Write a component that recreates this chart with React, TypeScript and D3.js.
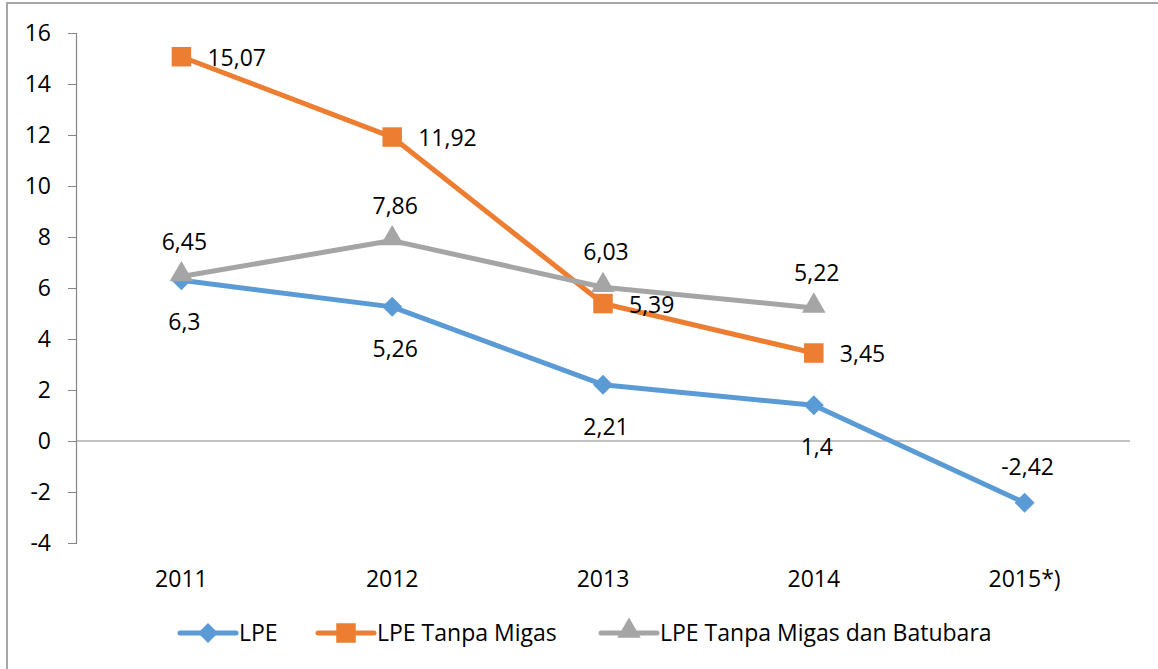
import React, { useEffect, useRef } from 'react';
import * as d3 from 'd3';

const years = ['2011', '2012', '2013', '2014', '2015*)'];
const lpe = [6.3, 5.26, 2.21, 1.4, -2.42];
const lpeTanpaMigas = [15.07, 11.92, 5.39, 3.45, null];
const lpeTanpaBatubara = [6.45, 7.86, 6.03, 5.22, null];
const yTicks = [-4, -2, 0, 2, 4, 6, 8, 10, 12, 14, 16];

const FONT = '"Open Sans", sans-serif';
const FS = 23;

function App() {
  const ref = useRef<SVGSVGElement>(null);

  useEffect(() => {
    const svg = d3.select(ref.current);
    svg.selectAll('*').remove();

    const width = 1158;
    const height = 669;
    const margin = { top: 33, left: 76, right: 28, bottom: 126 };
    const iwidth = width - margin.left - margin.right;
    const iheight = height - margin.top - margin.bottom;

    // chart frame
    svg.append('rect')
      .attr('x', 7).attr('y', 3)
      .attr('width', 1160).attr('height', 680)
      .attr('fill', 'white')
      .attr('stroke', '#a6a6a6')
      .attr('stroke-width', 2);

    const g = svg.append('g').attr('transform', `translate(${margin.left},${margin.top})`);

    const x = d3.scaleBand().domain(years).range([0, iwidth]);
    const y = d3.scaleLinear().domain([-4, 16]).range([iheight, 0]);
    const cx = (d: string) => (x(d) as number) + x.bandwidth() / 2;

    // y axis
    const yAxis = g.append('g')
      .call(d3.axisLeft(y).tickValues(yTicks).tickSize(8).tickPadding(17).tickFormat(d => String(d)));
    yAxis.select('.domain').attr('stroke', '#868686').attr('stroke-width', 1.2);
    yAxis.selectAll('.tick line').attr('stroke', '#868686');
    yAxis.selectAll('.tick text')
      .attr('font-family', FONT).attr('font-size', FS).attr('fill', '#000');

    // zero line
    g.append('line')
      .attr('x1', 0).attr('x2', iwidth)
      .attr('y1', y(0)).attr('y2', y(0))
      .attr('stroke', '#868686').attr('stroke-width', 1.2);

    // category labels
    g.selectAll('.xlab').data(years).enter().append('text')
      .attr('x', d => cx(d))
      .attr('y', iheight + 44)
      .attr('text-anchor', 'middle')
      .attr('font-family', FONT).attr('font-size', FS)
      .text(d => d);

    const series = [
      { name: 'LPE', values: lpe, color: '#5b9bd5', shape: 'diamond', pos: 'below' },
      { name: 'LPE Tanpa Migas', values: lpeTanpaMigas, color: '#ed7d31', shape: 'square', pos: 'right' },
      { name: 'LPE Tanpa Migas dan Batubara', values: lpeTanpaBatubara, color: '#a5a5a5', shape: 'triangle', pos: 'above' },
    ];

    const marker = (shape: string) => {
      if (shape === 'diamond') return d3.symbol().type(d3.symbolSquare).size(200)();
      if (shape === 'square') return d3.symbol().type(d3.symbolSquare).size(380)();
      return d3.symbol().type(d3.symbolTriangle).size(240)();
    };
    const markerT = (shape: string) =>
      shape === 'diamond' ? ' rotate(45)' : shape === 'triangle' ? ' translate(0,-2)' : '';

    series.forEach(s => {
      const pts = years
        .map((yr, i) => ({ yr, v: s.values[i] }))
        .filter(p => p.v !== null) as { yr: string; v: number }[];

      const line = d3.line<{ yr: string; v: number }>()
        .x(d => cx(d.yr))
        .y(d => y(d.v));

      g.append('path')
        .datum(pts)
        .attr('d', line)
        .attr('fill', 'none')
        .attr('stroke', s.color)
        .attr('stroke-width', 5)
        .attr('stroke-linejoin', 'round');

      g.selectAll(null).data(pts).enter().append('path')
        .attr('d', marker(s.shape))
        .attr('transform', d => `translate(${cx(d.yr)},${y(d.v)})${markerT(s.shape)}`)
        .attr('fill', s.color);
    });

    // data labels
    series.forEach(s => {
      const pts = years
        .map((yr, i) => ({ yr, v: s.values[i] }))
        .filter(p => p.v !== null) as { yr: string; v: number }[];
      g.selectAll(null).data(pts).enter().append('text')
        .attr('x', d => s.pos === 'right' ? cx(d.yr) + 26 : cx(d.yr) + 3)
        .attr('y', d => {
          if (s.pos === 'right') return y(d.v) + 9;
          if (s.pos === 'above') return y(d.v) - 27;
          return d.v < 0 ? y(d.v) - 28 : y(d.v) + 50;
        })
        .attr('text-anchor', s.pos === 'right' ? 'start' : 'middle')
        .attr('font-family', FONT).attr('font-size', FS)
        .text(d => String(d.v).replace('.', ','));
    });

    // legend
    const legendX = [180, 318, 601];
    const legend = svg.append('g');
    series.forEach((s, i) => {
      const lg = legend.append('g').attr('transform', `translate(${legendX[i]},633)`);
      lg.append('line')
        .attr('x1', 0).attr('x2', 56)
        .attr('stroke', s.color).attr('stroke-width', 5).attr('stroke-linecap', 'round');
      lg.append('path')
        .attr('d', marker(s.shape))
        .attr('transform', `translate(28,0)${markerT(s.shape)}`)
        .attr('fill', s.color);
      lg.append('text')
        .attr('x', 59).attr('y', 8)
        .attr('font-family', FONT).attr('font-size', FS)
        .text(s.name);
    });
  }, []);

  return (
    <svg ref={ref} width={1158} height={669} style={{ position: 'absolute', left: 0, top: 0 }} />
  );
}

export default App;
